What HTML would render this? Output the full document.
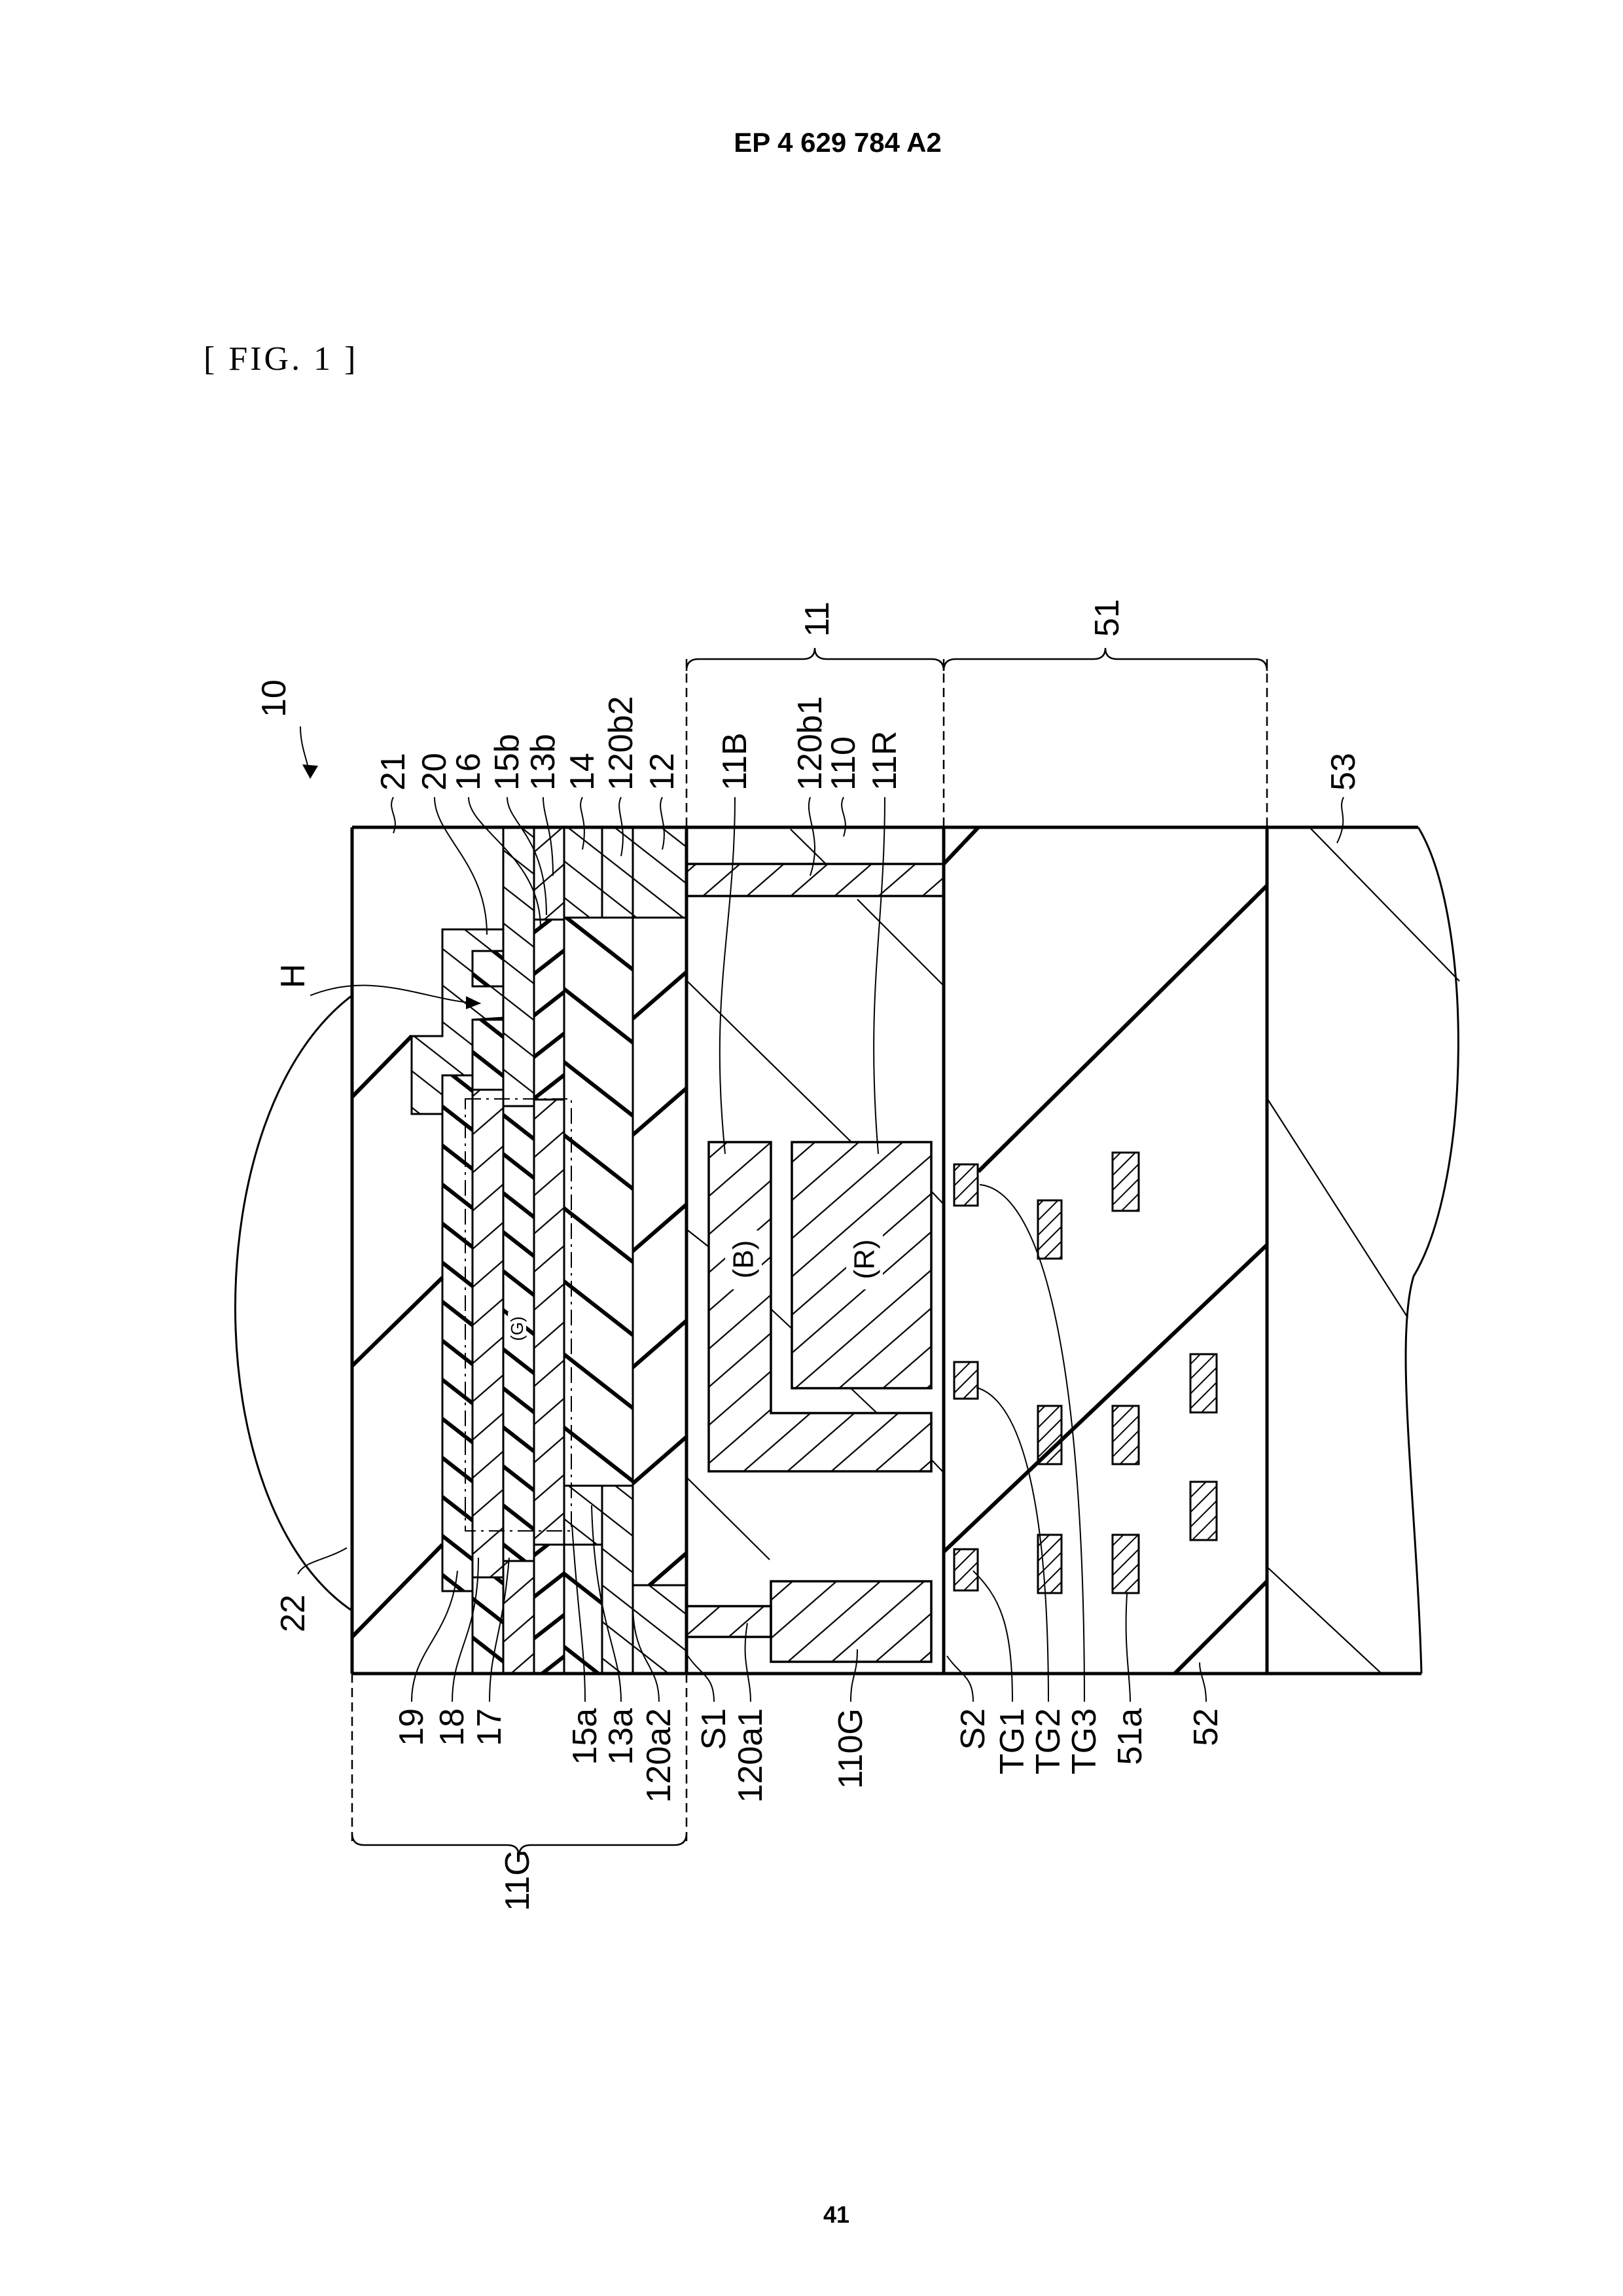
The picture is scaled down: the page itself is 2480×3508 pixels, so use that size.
<!DOCTYPE html>
<html><head><meta charset="utf-8"><style>
html,body{margin:0;padding:0;background:#fff}
svg{display:block}
text{font-family:"Liberation Sans",sans-serif;fill:#000}
</style></head><body>
<svg width="2480" height="3508" viewBox="0 0 2480 3508" xmlns="http://www.w3.org/2000/svg">
<defs>
<pattern id="thin" patternUnits="userSpaceOnUse" width="44" height="44" patternTransform="rotate(-41)"><line x1="0" y1="22" x2="44" y2="22" stroke="#000" stroke-width="2.2"/></pattern>
<pattern id="thinB" patternUnits="userSpaceOnUse" width="44" height="44" patternTransform="rotate(38)"><line x1="0" y1="22" x2="44" y2="22" stroke="#000" stroke-width="2.2"/></pattern>
<pattern id="small" patternUnits="userSpaceOnUse" width="16" height="16" patternTransform="rotate(-45)"><line x1="0" y1="8" x2="16" y2="8" stroke="#000" stroke-width="2"/></pattern>
<pattern id="th19" patternUnits="userSpaceOnUse" width="47" height="47" patternTransform="rotate(38)"><line x1="0" y1="23" x2="47" y2="23" stroke="#000" stroke-width="6"/></pattern>
<pattern id="th13" patternUnits="userSpaceOnUse" width="88" height="88" patternTransform="rotate(38)"><line x1="0" y1="44" x2="88" y2="44" stroke="#000" stroke-width="6"/></pattern>
<pattern id="th15" patternUnits="userSpaceOnUse" width="50" height="50" patternTransform="rotate(-38)"><line x1="0" y1="25" x2="50" y2="25" stroke="#000" stroke-width="6"/></pattern>
<pattern id="th12" patternUnits="userSpaceOnUse" width="134" height="134" patternTransform="rotate(-41)"><line x1="0" y1="67" x2="134" y2="67" stroke="#000" stroke-width="6"/></pattern>
</defs>

<text x="1280" y="232" font-size="42" font-weight="bold" text-anchor="middle">EP 4 629 784 A2</text>
<text x="311" y="565" font-size="52" letter-spacing="4" style="font-family:'Liberation Serif',serif">[ FIG. 1 ]</text>
<text x="1278" y="3396" font-size="36" font-weight="bold" text-anchor="middle">41</text>

<path d="M538,1521 C300,1700 300,2300 538,2461" fill="none" stroke="#000" stroke-width="3"/>

<g stroke="#000" stroke-width="3">
<polygon points="629,1583 676,1583 676,1420 769,1420 769,1453 722,1453 722,1507 769,1507 769,1555 722,1558 722,1643 676,1643 676,1702 629,1702" fill="url(#thinB)"/>
<rect x="722" y="1453" width="47" height="54" fill="url(#th19)"/>
<rect x="722" y="1558" width="47" height="107" fill="url(#th19)"/>
<rect x="769" y="1264" width="47" height="426" fill="url(#thinB)"/>
<rect x="676" y="1643" width="46" height="788" fill="url(#th19)"/>
<rect x="722" y="1665" width="47" height="745" fill="url(#thin)"/>
<rect x="722" y="2410" width="47" height="147" fill="url(#th19)"/>
<rect x="769" y="1690" width="47" height="695" fill="url(#th19)"/>
<rect x="769" y="2385" width="47" height="172" fill="url(#thin)"/>
<rect x="816" y="1264" width="46" height="141" fill="url(#thin)"/>
<rect x="816" y="1405" width="46" height="275" fill="url(#th15)"/>
<rect x="816" y="1680" width="46" height="680" fill="url(#thin)"/>
<rect x="816" y="2360" width="46" height="197" fill="url(#th15)"/>
<rect x="862" y="1264" width="58" height="138" fill="url(#thinB)"/>
<rect x="920" y="1264" width="47" height="138" fill="url(#thinB)"/>
<rect x="862" y="1402" width="105" height="868" fill="url(#th13)"/>
<rect x="862" y="2270" width="58" height="90" fill="url(#thinB)"/>
<rect x="862" y="2360" width="58" height="197" fill="url(#th13)"/>
<rect x="920" y="2270" width="47" height="287" fill="url(#thinB)"/>
<rect x="967" y="1264" width="81" height="138" fill="url(#thinB)"/>
<rect x="967" y="1402" width="81" height="1020" fill="url(#th12)"/>
<rect x="967" y="2422" width="81" height="135" fill="url(#thinB)"/>
</g>
<rect x="711" y="1679" width="162" height="660" fill="none" stroke="#000" stroke-width="2" stroke-dasharray="24,8,4,8"/>

<g stroke="#000" stroke-width="6">
<line x1="538" y1="1676" x2="629" y2="1583"/>
<line x1="538" y1="2087" x2="676" y2="1952"/>
<line x1="538" y1="2501" x2="676" y2="2360"/>
<line x1="1442" y1="1320" x2="1495" y2="1264"/>
<line x1="1495" y1="1790" x2="1936" y2="1353"/>
<line x1="1442" y1="2371" x2="1936" y2="1902"/>
<line x1="1795" y1="2557" x2="1936" y2="2416"/>
</g>

<g stroke="#000" stroke-width="2.2" fill="none">
<line x1="1050" y1="1499" x2="1301" y2="1745"/>
<line x1="1310" y1="1374" x2="1444" y2="1508"/>
<line x1="1208" y1="1267" x2="1262" y2="1320"/>
<line x1="1050" y1="1879" x2="1083" y2="1905"/>
<line x1="1178" y1="2000" x2="1210" y2="2030"/>
<line x1="1300" y1="2121" x2="1340" y2="2159"/>
<line x1="1050" y1="2258" x2="1176" y2="2383"/>
<line x1="1423" y1="2230" x2="1442" y2="2250"/>
<line x1="1423" y1="1820" x2="1442" y2="1840"/>
<line x1="2001" y1="1264" x2="2230" y2="1499"/>
<line x1="1936" y1="1678" x2="2151" y2="2013"/>
<line x1="1936" y1="2394" x2="2111" y2="2557"/>
</g>
<g stroke="#000" stroke-width="3.5">
<rect x="1049" y="1320" width="393" height="49" fill="url(#thin)"/>
<rect x="1049" y="2454" width="129" height="47" fill="url(#thin)"/>
<polygon points="1083,1745 1178,1745 1178,2159 1423,2159 1423,2248 1083,2248" fill="url(#thin)"/>
<rect x="1210" y="1745" width="213" height="376" fill="url(#thin)"/>
<rect x="1178" y="2416" width="245" height="123" fill="url(#thin)"/>
</g>
<g stroke="#000" stroke-width="3" fill="url(#small)">
<rect x="1458" y="1779" width="36" height="63"/>
<rect x="1586" y="1834" width="36" height="89"/>
<rect x="1700" y="1761" width="40" height="89"/>
<rect x="1458" y="2081" width="36" height="56"/>
<rect x="1586" y="2148" width="36" height="89"/>
<rect x="1700" y="2148" width="40" height="89"/>
<rect x="1819" y="2069" width="40" height="89"/>
<rect x="1819" y="2264" width="40" height="89"/>
<rect x="1586" y="2345" width="36" height="89"/>
<rect x="1700" y="2345" width="40" height="89"/>
<rect x="1458" y="2367" width="36" height="63"/>
</g>

<g stroke="#000" stroke-width="5" fill="none">
<line x1="538" y1="1264" x2="2167" y2="1264"/>
<line x1="538" y1="2557" x2="2172" y2="2557"/>
<line x1="538" y1="1264" x2="538" y2="2557"/>
<line x1="1049" y1="1264" x2="1049" y2="2557"/>
<line x1="1442" y1="1264" x2="1442" y2="2557"/>
<line x1="1936" y1="1264" x2="1936" y2="2557"/>
<path d="M2167,1264 C2250,1400 2250,1800 2160,1950 C2130,2050 2165,2300 2172,2557" stroke-width="3"/>
</g>

<g stroke="#000" stroke-width="2.5" fill="none" stroke-dasharray="14,8">
<line x1="1049" y1="1007" x2="1049" y2="1264"/>
<line x1="1442" y1="1007" x2="1442" y2="1264"/>
<line x1="1936" y1="1007" x2="1936" y2="1264"/>
<line x1="538" y1="2557" x2="538" y2="2819"/>
<line x1="1049" y1="2557" x2="1049" y2="2819"/>
</g>
<g stroke="#000" stroke-width="2.5" fill="none">
<path d="M1049,1025 Q1049,1007 1067,1007 L1227,1007 Q1245,1007 1245,990 Q1245,1007 1263,1007 L1424,1007 Q1442,1007 1442,1025"/>
<path d="M1442,1025 Q1442,1007 1460,1007 L1671,1007 Q1689,1007 1689,990 Q1689,1007 1707,1007 L1918,1007 Q1936,1007 1936,1025"/>
<path d="M538,2801 Q538,2819 556,2819 L775,2819 Q793,2819 793,2836 Q793,2819 811,2819 L1031,2819 Q1049,2819 1049,2801"/>
</g>

<g stroke="#000" stroke-width="2" fill="none">
<path d="M601,1218 c-10,20 10,30 0,55"/>
<path d="M664,1218 c0,60 80,100 80,210"/>
<path d="M716,1218 c0,50 110,90 110,200"/>
<path d="M775,1218 c0,40 60,60 60,180"/>
<path d="M830,1218 c0,30 15,50 15,120"/>
<path d="M890,1218 c-10,20 10,30 0,80"/>
<path d="M949,1218 c-10,20 10,40 0,90"/>
<path d="M1012,1218 c-10,20 10,40 0,80"/>
<path d="M1123,1218 c0,200 -40,300 -15,545"/>
<path d="M1238,1218 c-10,30 20,60 0,120"/>
<path d="M1289,1218 c-10,20 10,30 0,60"/>
<path d="M1352,1218 c0,200 -30,300 -10,545"/>
<path d="M2053,1218 c-10,20 10,30 -10,70"/>
<path d="M459,1110 c0,30 10,50 15,75"/>
<path d="M474,1521 c100,-40 180,10 260,12"/>
<path d="M629,2600 c0,-80 60,-100 70,-200"/>
<path d="M691,2600 c0,-80 40,-100 40,-220"/>
<path d="M748,2600 c0,-80 20,-100 30,-220"/>
<path d="M894,2600 c0,-80 -10,-120 -20,-270"/>
<path d="M949,2600 c0,-80 -40,-120 -45,-300"/>
<path d="M1007,2600 c0,-60 -40,-60 -40,-150"/>
<path d="M1091,2600 c0,-40 -20,-40 -40,-70"/>
<path d="M1147,2600 c0,-40 -15,-60 -5,-120"/>
<path d="M1300,2600 c0,-40 10,-40 10,-80"/>
<path d="M1487,2600 c0,-40 -20,-40 -40,-70"/>
<path d="M1547,2600 c0,-120 -20,-160 -60,-200"/>
<path d="M1602,2600 c0,-300 -40,-460 -110,-480"/>
<path d="M1657,2600 c0,-500 -60,-780 -160,-790"/>
<path d="M1727,2600 c0,-40 -10,-80 -5,-165"/>
<path d="M1843,2600 c0,-30 -10,-40 -10,-60"/>
<path d="M455,2405 c10,-20 40,-20 75,-40"/>
</g>
<polygon points="474,1190 462,1168 486,1170" fill="#000"/>
<polygon points="735,1533 712,1522 712,1542" fill="#000"/>

<g font-size="52" dominant-baseline="central">
<text transform="translate(601,1208) rotate(-90)">21</text>
<text transform="translate(664,1208) rotate(-90)">20</text>
<text transform="translate(716,1208) rotate(-90)">16</text>
<text transform="translate(775,1208) rotate(-90)">15b</text>
<text transform="translate(830,1208) rotate(-90)">13b</text>
<text transform="translate(890,1208) rotate(-90)">14</text>
<text transform="translate(949,1208) rotate(-90)">120b2</text>
<text transform="translate(1012,1208) rotate(-90)">12</text>
<text transform="translate(1123,1208) rotate(-90)">11B</text>
<text transform="translate(1238,1208) rotate(-90)">120b1</text>
<text transform="translate(1289,1208) rotate(-90)">110</text>
<text transform="translate(1352,1208) rotate(-90)">11R</text>
<text transform="translate(2053,1208) rotate(-90)">53</text>
<text transform="translate(419,1096) rotate(-90)">10</text>
<text transform="translate(448,1510) rotate(-90)">H</text>
<text transform="translate(1249,973) rotate(-90)">11</text>
<text transform="translate(1692,973) rotate(-90)">51</text>
<text transform="translate(448,2494) rotate(-90)">22</text>
<text transform="translate(791,2920) rotate(-90)">11G</text>
</g>
<g font-size="52" dominant-baseline="central" text-anchor="end">
<text transform="translate(629,2610) rotate(-90)">19</text>
<text transform="translate(691,2610) rotate(-90)">18</text>
<text transform="translate(748,2610) rotate(-90)">17</text>
<text transform="translate(894,2610) rotate(-90)">15a</text>
<text transform="translate(949,2610) rotate(-90)">13a</text>
<text transform="translate(1007,2610) rotate(-90)">120a2</text>
<text transform="translate(1091,2610) rotate(-90)">S1</text>
<text transform="translate(1147,2610) rotate(-90)">120a1</text>
<text transform="translate(1300,2610) rotate(-90)">110G</text>
<text transform="translate(1487,2610) rotate(-90)">S2</text>
<text transform="translate(1547,2610) rotate(-90)">TG1</text>
<text transform="translate(1602,2610) rotate(-90)">TG2</text>
<text transform="translate(1657,2610) rotate(-90)">TG3</text>
<text transform="translate(1727,2610) rotate(-90)">51a</text>
<text transform="translate(1843,2610) rotate(-90)">52</text>
</g>
<g dominant-baseline="central" text-anchor="middle">
<rect x="1108" y="1880" width="56" height="90" fill="#fff"/>
<text transform="translate(1136,1924) rotate(-90)" font-size="44">(B)</text>
<rect x="1293" y="1880" width="56" height="90" fill="#fff"/>
<text transform="translate(1321,1924) rotate(-90)" font-size="44">(R)</text>
<rect x="776" y="2005" width="28" height="50" fill="#fff"/>
<text transform="translate(790,2030) rotate(-90)" font-size="26">(G)</text>
</g>
</svg>
</body></html>
